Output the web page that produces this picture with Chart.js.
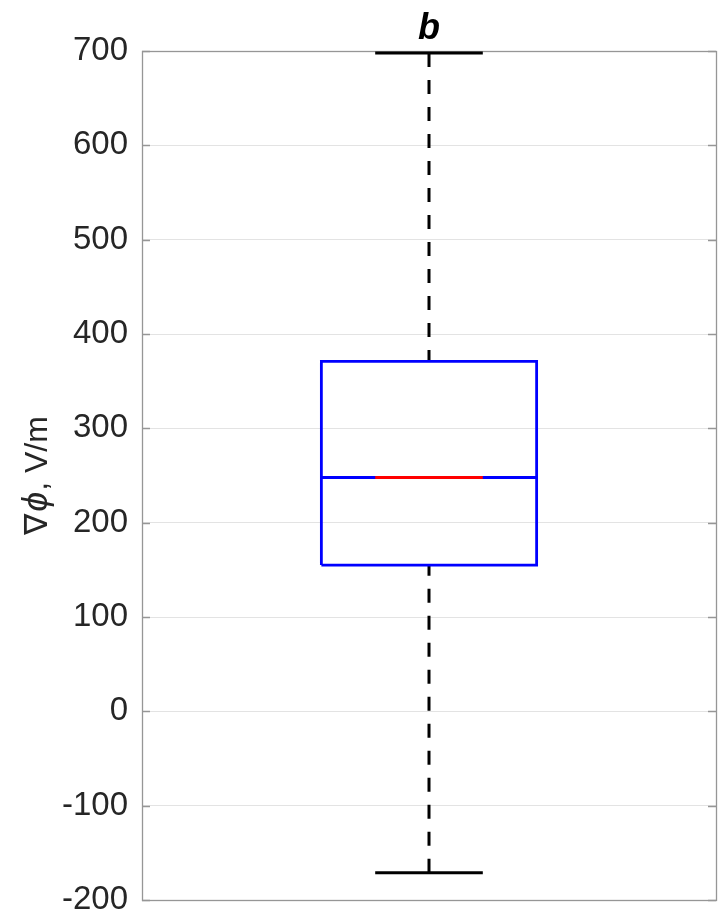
<!DOCTYPE html>
<html>
<head>
<meta charset="utf-8">
<script src="https://cdn.jsdelivr.net/npm/chart.js@4"></script>
<style>
  html, body { margin: 0; padding: 0; background: #fff; }
  #wrap { width: 722px; height: 918px; }
</style>
</head>
<body>
<div id="wrap"><canvas id="chart" width="722" height="918"></canvas></div>
<script>
// boxplot summary
const groups = ['b'];
const groupX = [1];
const q1 = [155];
const median = [248];
const q3 = [371];
const whiskerLow = [-171];
const whiskerHigh = [698];
const yTicks = [-200, -100, 0, 100, 200, 300, 400, 500, 600, 700];
const yLabelParts = ['\u2207', '\u03d5', ', V/m'];

const BOX_HALF = 0.1875;
const CAP_HALF = 0.09375;
const FONT = "'Liberation Sans', Arial, Helvetica, sans-serif";

function seg(x0, y0, x1, y1) {
    return [{x: x0, y: y0}, {x: x1, y: y1}];
}

const datasets = [];
groupX.forEach((cx, i) => {
    const lineBase = {type: 'scatter', showLine: true, pointRadius: 0, borderWidth: 3, fill: false};
    // whiskers (dashed, from cap toward the box)
    datasets.push({...lineBase, data: seg(cx, whiskerHigh[i], cx, q3[i]), borderColor: '#000', borderDash: [14, 13]});
    datasets.push({...lineBase, data: seg(cx, whiskerLow[i], cx, q1[i]), borderColor: '#000', borderDash: [14, 13]});
    // caps
    datasets.push({...lineBase, data: seg(cx - CAP_HALF, whiskerHigh[i], cx + CAP_HALF, whiskerHigh[i]), borderColor: '#000'});
    datasets.push({...lineBase, data: seg(cx - CAP_HALF, whiskerLow[i], cx + CAP_HALF, whiskerLow[i]), borderColor: '#000'});
    // box
    datasets.push({...lineBase, borderWidth: 2.8, borderColor: '#0000ff', borderJoinStyle: 'miter',
        data: [
            {x: cx - BOX_HALF, y: q1[i]}, {x: cx + BOX_HALF, y: q1[i]},
            {x: cx + BOX_HALF, y: q3[i]}, {x: cx - BOX_HALF, y: q3[i]},
            {x: cx - BOX_HALF, y: q1[i]}
        ]});
    // median
    datasets.push({...lineBase, data: seg(cx - BOX_HALF, median[i], cx + BOX_HALF, median[i]), borderColor: '#0000ff'});
    datasets.push({...lineBase, data: seg(cx - CAP_HALF, median[i], cx + CAP_HALF, median[i]), borderColor: '#ff0000'});
});
// chart.js paints the first dataset on top, so flip the list
datasets.reverse();

const framePlugin = {
    id: 'frame',
    beforeDatasetsDraw(chart) {
        const a = chart.chartArea;
        const ctx = chart.ctx;
        const yScale = chart.scales.y;
        ctx.save();
        ctx.strokeStyle = '#969696';
        ctx.lineWidth = 1.3;
        ctx.strokeRect(Math.round(a.left) + 0.5, Math.round(a.top) + 0.5,
            Math.round(a.right - a.left), Math.round(a.bottom - a.top));
        // inward tick marks on both sides, MATLAB style
        ctx.beginPath();
        yScale.ticks.forEach(t => {
            const py = Math.round(yScale.getPixelForValue(t.value)) + 0.5;
            ctx.moveTo(a.left, py);
            ctx.lineTo(a.left + 8, py);
            ctx.moveTo(a.right, py);
            ctx.lineTo(a.right - 8, py);
        });
        ctx.stroke();
        ctx.restore();
    },
    afterDraw(chart) {
        const a = chart.chartArea;
        const ctx = chart.ctx;
        ctx.save();
        // title over the plot area
        ctx.fillStyle = '#000';
        ctx.font = 'italic bold 36px ' + FONT;
        ctx.textAlign = 'center';
        ctx.textBaseline = 'alphabetic';
        ctx.fillText(groups[0], (a.left + a.right) / 2, 39);
        // y label with italic phi
        const fonts = ['32px ' + FONT, 'italic 36px ' + FONT, '32px ' + FONT];
        let total = 0;
        const widths = yLabelParts.map((t, k) => {
            ctx.font = fonts[k];
            const w = ctx.measureText(t).width + (k === 1 ? 3 : 0);
            total += w;
            return w;
        });
        ctx.translate(47, (a.top + a.bottom) / 2);
        ctx.rotate(-Math.PI / 2);
        ctx.fillStyle = '#262626';
        ctx.textAlign = 'left';
        let x = -total / 2;
        yLabelParts.forEach((t, k) => {
            ctx.font = fonts[k];
            ctx.fillText(t, x + (k === 1 ? 2 : 0), 0);
            x += widths[k];
        });
        ctx.restore();
    }
};

const ctx = document.getElementById('chart').getContext('2d');
const myChart = new Chart(ctx, {
    data: { datasets: datasets },
    plugins: [framePlugin],
    options: {
        responsive: false,
        animation: false,
        layout: { padding: { right: 6, left: 0, top: 51, bottom: 18 } },
        plugins: {
            legend: { display: false },
            tooltip: { enabled: false },
            title: { display: false }
        },
        scales: {
            x: {
                type: 'linear',
                min: 0.5,
                max: 1.5,
                display: false
            },
            y: {
                type: 'linear',
                min: -200,
                max: 700,
                afterBuildTicks: (scale) => { scale.ticks = yTicks.map(v => ({value: v})); },
                afterFit: (scale) => {
                    scale.width = 142;
                    scale.paddingTop = 0;
                    scale.paddingBottom = 0;
                },
                border: { display: false },
                grid: { color: '#e3e3e3', lineWidth: 1, drawTicks: false },
                ticks: {
                    color: '#262626',
                    padding: 14,
                    font: { family: FONT, size: 33, lineHeight: 1.1 }
                }
            }
        }
    }
});
</script>
</body>
</html>
